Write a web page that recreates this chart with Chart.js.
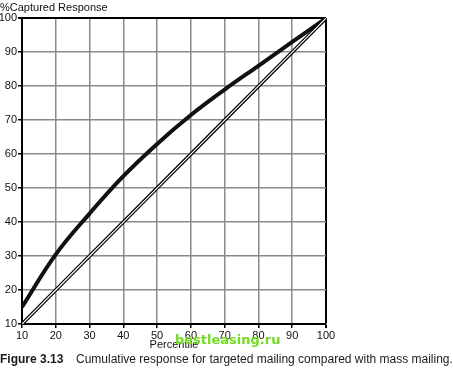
<!DOCTYPE html>
<html>
<head>
<meta charset="utf-8">
<script src="https://cdn.jsdelivr.net/npm/chart.js@4.4.0/dist/chart.umd.min.js"></script>
<style>
  html, body { margin: 0; padding: 0; background: #fff; }
  #wrap { position: relative; width: 453px; height: 370px; overflow: hidden; }
  #chart { position: absolute; left: 0; top: 0; }
  #mark { position: absolute; left: 175px; top: 332px; font: bold 13px "DejaVu Sans", sans-serif; color: #72dc1e; }
  #caption { position: absolute; left: 0; top: 352px; width: 460px; font: 12px "Liberation Sans", sans-serif; color: #1a1a1a; white-space: nowrap; }
  #caption b { display: inline-block; width: 76px; }
</style>
</head>
<body>
<div id="wrap">
  <canvas id="chart" width="453" height="352"></canvas>
  <div id="mark">bestleasing.ru</div>
  <div id="caption"><b>Figure 3.13</b>Cumulative response for targeted mailing compared with mass mailing.</div>
</div>
<script>
// percentile of the mailing list vs percent of responses captured
const percentiles = [10, 20, 30, 40, 50, 60, 70, 80, 90, 100];
const targeted = [15, 30.5, 42.5, 53.5, 63, 71.5, 79, 86, 93, 100];
const massMailing = [10, 20, 30, 40, 50, 60, 70, 80, 90, 100];

const pts = (ys) => ys.map((y, i) => ({ x: percentiles[i], y: y }));
const tickFont = { family: "Liberation Sans", size: 11 };
const edge = (v) => v === 100 ? 'black' : '#8a8a8a';

new Chart(document.getElementById('chart').getContext('2d'), {
  type: 'line',
  data: {
    datasets: [
      { data: pts(massMailing), borderColor: '#fff', borderWidth: 1.2, pointRadius: 0, order: 0 },
      { data: pts(massMailing), borderColor: '#000', borderWidth: 3.6, pointRadius: 0, order: 1 },
      { data: pts(targeted), borderColor: '#111', borderWidth: 4, pointRadius: 0,
        tension: 0.4, order: 2 }
    ]
  },
  options: {
    responsive: false,
    animation: false,
    layout: { padding: { left: 0, right: 127, top: 1, bottom: 0 } },
    plugins: {
      legend: { display: false },
      tooltip: { enabled: false },
      title: {
        display: true, text: '%Captured Response', align: 'start', color: '#111',
        font: { family: "Liberation Sans", size: 11, weight: 'normal' },
        padding: { top: 0, bottom: 4 }
      }
    },
    scales: {
      x: {
        type: 'linear', min: 10, max: 100,
        ticks: { stepSize: 10, color: '#111', font: tickFont, padding: 1, maxRotation: 0 },
        grid: {
          color: (c) => edge(c.tick.value), lineWidth: (c) => c.tick.value === 100 ? 2 : 1.5,
          tickColor: '#000', tickLength: 4
        },
        border: { color: '#000', width: 2 },
        title: { display: true, text: 'Percentile', color: '#111', font: tickFont, padding: 0 },
        afterFit: (s) => { s.height = 28; }
      },
      y: {
        min: 10, max: 100,
        ticks: { stepSize: 10, color: '#111', font: tickFont, padding: 1 },
        grid: {
          color: (c) => edge(c.tick.value), lineWidth: (c) => c.tick.value === 100 ? 2 : 1.5,
          tickColor: '#000', tickLength: 4
        },
        border: { color: '#000', width: 2 },
        afterFit: (s) => { s.width = 22; }
      }
    }
  }
});
</script>
</body>
</html>
